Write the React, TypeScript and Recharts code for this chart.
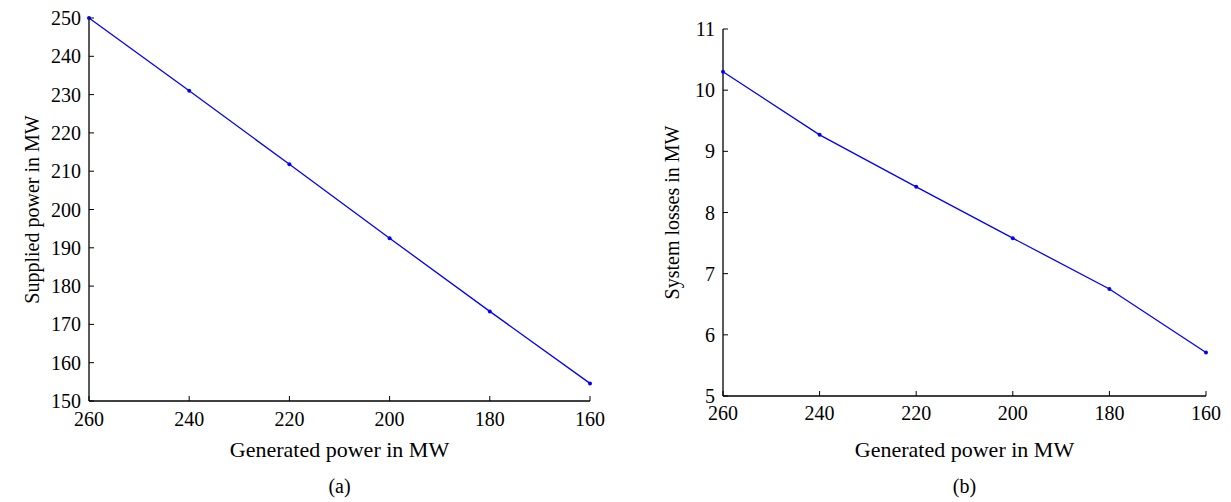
import { LineChart, Line, XAxis, YAxis } from 'recharts';

const generated = [260, 240, 220, 200, 180, 160];
const supplied = [250, 231, 211.8, 192.5, 173.4, 154.6];
const losses = [10.3, 9.27, 8.42, 7.58, 6.75, 5.71];

const xTicks = [260, 240, 220, 200, 180, 160];
const suppliedTicks = [150, 160, 170, 180, 190, 200, 210, 220, 230, 240, 250];
const lossTicks = [5, 6, 7, 8, 9, 10, 11];

const dataA = generated.map((g, i) => ({ g, v: supplied[i] }));
const dataB = generated.map((g, i) => ({ g, v: losses[i] }));

const FONT = '"Liberation Serif", "Times New Roman", serif';
const BLUE = '#0000ff';
const M = 10; // tick margin, used to find the axis line from the tick's text position
const TL = 5; // inward tick length

const BottomTick = ({ x, y, payload, gap }: any) => {
  const ay = y - M;
  return (
    <g>
      <line x1={x} x2={x} y1={ay} y2={ay - TL} stroke="#000" strokeWidth={1} />
      <text x={x} y={ay + gap} dy="0.35em" textAnchor="middle" fontFamily={FONT} fontSize={20} fill="#000">
        {payload.value}
      </text>
    </g>
  );
};

const LeftTick = ({ x, y, payload }: any) => {
  const ax = x + M;
  return (
    <g>
      <line x1={ax} x2={ax + TL} y1={y} y2={y} stroke="#000" strokeWidth={1} />
      <text x={ax - 8} y={y} dy="0.35em" textAnchor="end" fontFamily={FONT} fontSize={20} fill="#000">
        {payload.value}
      </text>
    </g>
  );
};

const TopTick = ({ x, y }: any) => <line x1={x} x2={x} y1={y} y2={y + TL} stroke="#000" strokeWidth={1} />;
const RightTick = ({ x, y }: any) => <line x1={x} x2={x - TL} y1={y} y2={y} stroke="#000" strokeWidth={1} />;

function Panel({ data, yTicks, yDomain, yLabel, tag, width, yAxisWidth, top, right, xAxisHeight, tickGap, xLabelDy, tagDy, yLabelX }: any) {
  return (
    <LineChart width={width} height={502} data={data} margin={{ top, right, bottom: 0, left: 0 }}>
      <XAxis
        dataKey="g"
        type="number"
        domain={[160, 260]}
        reversed
        ticks={xTicks}
        height={xAxisHeight}
        tickSize={0}
        tickMargin={M}
        tickLine={false}
        axisLine={{ stroke: '#000', strokeWidth: 1.3 }}
        tick={<BottomTick gap={tickGap} />}
        label={{
          content: ({ viewBox }: any) => (
            <g fontFamily={FONT} fill="#000">
              <text x={viewBox.x + viewBox.width / 2} y={viewBox.y + xLabelDy} dy="0.35em" textAnchor="middle" fontSize={22}>
                Generated power in MW
              </text>
              <text x={viewBox.x + viewBox.width / 2} y={viewBox.y + tagDy} dy="0.35em" textAnchor="middle" fontSize={20}>
                {tag}
              </text>
            </g>
          ),
        }}
      />
      <XAxis
        xAxisId="top"
        orientation="top"
        type="number"
        domain={[160, 260]}
        reversed
        ticks={xTicks}
        height={0}
        tickSize={0}
        tickMargin={0}
        tickLine={false}
        axisLine={{ stroke: '#000', strokeWidth: 1.3 }}
        tick={<TopTick />}
      />
      <YAxis
        type="number"
        domain={yDomain}
        ticks={yTicks}
        width={yAxisWidth}
        tickSize={0}
        tickMargin={M}
        tickLine={false}
        axisLine={{ stroke: '#000', strokeWidth: 1.3 }}
        tick={<LeftTick />}
        label={{
          content: ({ viewBox }: any) => {
            const cx = viewBox.x + yLabelX;
            const cy = viewBox.y + viewBox.height / 2;
            return (
              <text
                x={cx}
                y={cy}
                dy="0.35em"
                transform={`rotate(-90 ${cx} ${cy})`}
                textAnchor="middle"
                fontFamily={FONT}
                fontSize={20}
                fill="#000"
              >
                {yLabel}
              </text>
            );
          },
        }}
      />
      <YAxis
        yAxisId="right"
        orientation="right"
        type="number"
        domain={yDomain}
        ticks={yTicks}
        width={0}
        tickSize={0}
        tickMargin={0}
        tickLine={false}
        axisLine={{ stroke: '#000', strokeWidth: 1.3 }}
        tick={<RightTick />}
      />
      <Line
        dataKey="v"
        stroke={BLUE}
        strokeWidth={1.3}
        dot={{ r: 2, fill: BLUE, stroke: BLUE, strokeWidth: 0 }}
        isAnimationActive={false}
      />
    </LineChart>
  );
}

export default function App() {
  return (
    <div style={{ position: 'absolute', left: 0, top: 0, width: 1231, height: 502, background: '#fff' }}>
      <div style={{ position: 'absolute', left: 0, top: 0 }}>
        <Panel
          data={dataA}
          yTicks={suppliedTicks}
          yDomain={[150, 250]}
          yLabel="Supplied power in MW"
          tag="(a)"
          width={620}
          yAxisWidth={89}
          top={18}
          right={30}
          xAxisHeight={101}
          tickGap={18}
          xLabelDy={48}
          tagDy={85}
          yLabelX={32}
        />
      </div>
      <div style={{ position: 'absolute', left: 620, top: 0 }}>
        <Panel
          data={dataB}
          yTicks={lossTicks}
          yDomain={[5, 11]}
          yLabel="System losses in MW"
          tag="(b)"
          width={611}
          yAxisWidth={103}
          top={29}
          right={25}
          xAxisHeight={106}
          tickGap={17}
          xLabelDy={53}
          tagDy={90}
          yLabelX={52}
        />
      </div>
    </div>
  );
}
